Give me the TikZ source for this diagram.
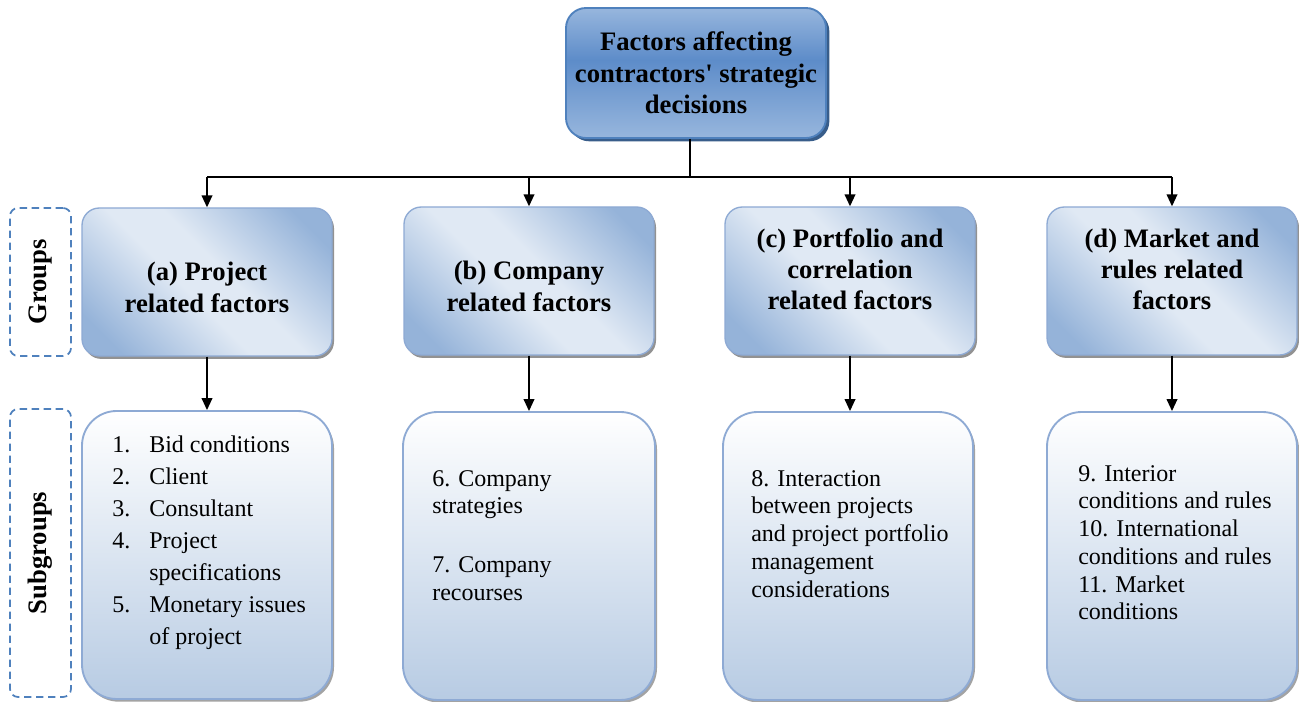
\documentclass[tikz,border=0pt]{standalone}
\usepackage{fontspec}
\setmainfont{Liberation Serif}[Ligatures=TeXOff]
\usetikzlibrary{shadows,arrows.meta}
\definecolor{topA}{HTML}{97B6DD}
\definecolor{topB}{HTML}{5D8CC9}
\definecolor{bord}{HTML}{4F81BD}
\definecolor{topShadow}{HTML}{385D8A}
\definecolor{grpBlue}{HTML}{95B3D9}
\definecolor{grpLight}{HTML}{E0E9F4}
\definecolor{grpBord}{HTML}{8EAAD4}
\definecolor{subBot}{HTML}{B7CBE3}
\definecolor{subBord}{HTML}{8EAAD4}
\pgfdeclareverticalshading{topshade}{100bp}{color(0bp)=(topA); color(25bp)=(topA); color(55bp)=(topB); color(75bp)=(topA); color(100bp)=(topA)}
\pgfdeclarehorizontalshading{grpshade}{100bp}{color(0bp)=(grpBlue); color(22bp)=(grpBlue); color(45bp)=(grpLight); color(55bp)=(grpLight); color(78bp)=(grpBlue); color(100bp)=(grpBlue)}
\tikzset{
  topbox/.style={draw=bord, line width=1.4pt, rounded corners=15pt, shading=topshade,
    minimum width=195pt, minimum height=97.5pt, align=center, inner sep=0pt,
    font=\fontsize{20}{23.5}\selectfont\bfseries,
    drop shadow={shadow xshift=2.5pt, shadow yshift=-2.5pt, fill=topShadow, opacity=1}},
  grpbox/.style={draw=grpBord, line width=1pt, rounded corners=13pt, shading=grpshade, shading angle=45,
    minimum width=187.5pt, minimum height=111pt, inner sep=0pt,
    drop shadow={shadow xshift=1.5pt, shadow yshift=-2.2pt, fill=black!50, opacity=0.85}},
  grptext/.style={inner sep=0pt, font=\fontsize{20}{24}\selectfont\bfseries},
  subbox/.style={draw=subBord, line width=1.4pt, rounded corners=26pt, top color=white, bottom color=subBot,
    minimum width=187.5pt, minimum height=216pt, inner sep=0pt,
    drop shadow={shadow xshift=1.5pt, shadow yshift=-2pt, fill=black!45, opacity=0.8}},
  dashbox/.style={draw=bord, line width=1.3pt, dash pattern=on 5.5pt off 3.5pt, rounded corners=6pt,
    minimum width=45.75pt, inner sep=0pt},
  sidelabel/.style={rotate=90, font=\fontsize{20}{24}\selectfont\bfseries, inner sep=0pt},
  subtext/.style={anchor=north west, align=left, inner sep=0pt, font=\fontsize{18}{20.8}\selectfont},
  conn/.style={line width=1.3pt, black},
  arr/.style={conn, -{Triangle[length=9pt,width=8pt]}}
}
\begin{document}
\begin{tikzpicture}[x=0.75pt,y=-0.75pt]
\useasboundingbox (0,0) rectangle (1299,702);
\fill[white] (0,0) rectangle (1299,702);

% top box
\node[topbox] (top) at (696,73) {Factors affecting\\contractors' strategic\\decisions};

% group boxes
\node[grpbox] (ga) at (207,282) {};
\node[grpbox] (gb) at (529,281) {};
\node[grpbox] (gc) at (850,281) {};
\node[grpbox] (gd) at (1172,281) {};
\node[grptext] (ga-t) at (207,290.5) {\begin{tabular}{@{}c@{}}(a) Project\\related factors\end{tabular}};
\node[grptext] (gb-t) at (529,289) {\begin{tabular}{@{}c@{}}(b) Company\\related factors\end{tabular}};
\node[grptext] (gc-t) at (850,272) {\begin{tabular}{@{}c@{}}(c) Portfolio and\\[-0.8pt]correlation\\[-0.8pt]related factors\end{tabular}};
\node[grptext] (gd-t) at (1172,272) {\begin{tabular}{@{}c@{}}(d) Market and\\[-0.8pt]rules related\\[-0.8pt]factors\end{tabular}};

% subgroup boxes
\node[subbox] (sa) at (207,555) {};
\node[subbox, minimum width=189pt] (sb) at (529,556) {};
\node[subbox] (sc) at (848,556) {};
\node[subbox] (sd) at (1172,556) {};

% side dashed boxes
\node[dashbox, minimum height=111pt] (dg) at (40.5,282) {};
\node[sidelabel] (lg) at (dg.center) {Groups};
\node[dashbox, minimum height=216pt] (ds) at (40.5,553) {};
\node[sidelabel] (ls) at (ds.center) {Subgroups};

% subgroup texts
\node[subtext, font=\fontsize{18}{24}\selectfont] (ta) at (112,435.5) {%
\makebox[27.75pt][l]{1.}Bid conditions\\
\makebox[27.75pt][l]{2.}Client\\
\makebox[27.75pt][l]{3.}Consultant\\
\makebox[27.75pt][l]{4.}Project\\
\makebox[27.75pt][l]{}specifications\\
\makebox[27.75pt][l]{5.}Monetary issues\\
\makebox[27.75pt][l]{}of project};
\node[subtext] (tb) at (432,470) {6. Company\\strategies\\[23pt]7. Company\\recourses};
\node[subtext] (tc) at (751,470) {8. Interaction\\between projects\\and project portfolio\\management\\considerations};
\node[subtext] (td) at (1078,465) {9. Interior\\conditions and rules\\10. International\\conditions and rules\\11. Market\\conditions};

% connectors
\coordinate (hub) at (690,177);
\draw[conn] (top.south -| hub) -- (hub);
\draw[conn] (ga.north |- hub) -- (gd.north |- hub);
\foreach \g in {ga,gb,gc,gd} {
  \draw[arr] (\g.north |- hub) -- (\g.north);
}
\draw[arr] (ga.south) -- (ga.south |- sa.north);
\draw[arr] (gb.south) -- (gb.south |- sb.north);
\draw[arr] (gc.south) -- (gc.south |- sc.north);
\draw[arr] (gd.south) -- (gd.south |- sd.north);
\end{tikzpicture}
\end{document}
